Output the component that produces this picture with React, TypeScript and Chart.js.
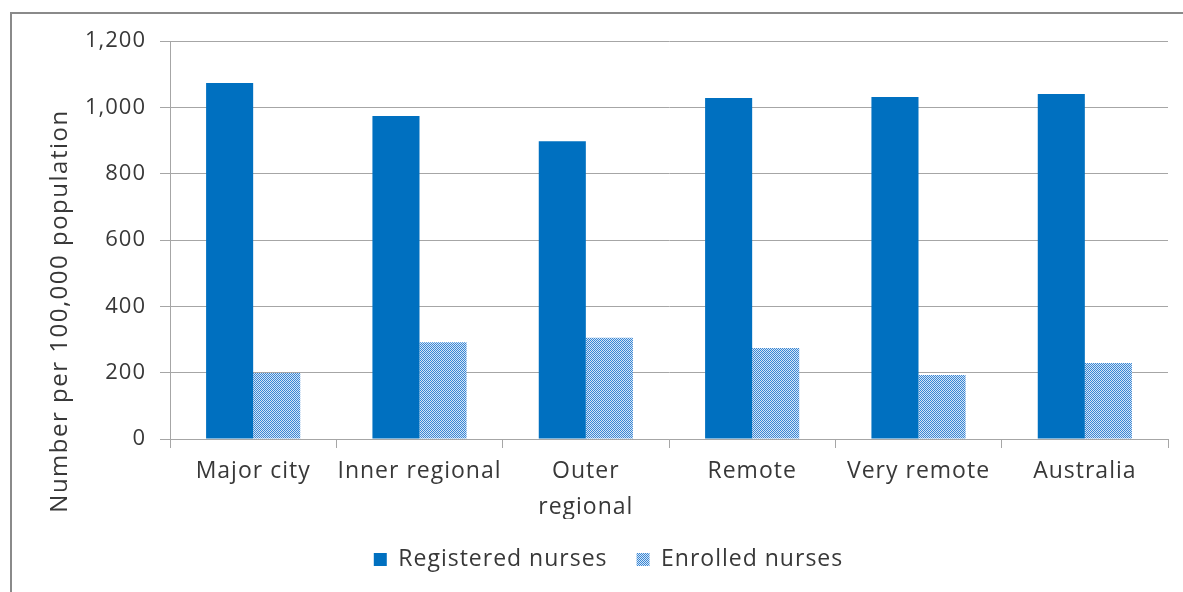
import React, { useEffect, useRef } from "react";
import { Chart, registerables } from "chart.js";

Chart.register(...registerables);

const categories: (string | string[])[] = [
  "Major city",
  "Inner regional",
  ["Outer", "regional"],
  "Remote",
  "Very remote",
  "Australia",
];
const registeredNurses = [1073, 974, 898, 1028, 1031, 1040];
const enrolledNurses = [199, 292, 305, 274, 193, 229];
const seriesNames = ["Registered nurses", "Enrolled nurses"];
const yTitle = "Number per 100,000 population";

const FONT = "'Open Sans', 'DejaVu Sans', sans-serif";
const TEXT = "#383838";
const GRID = "#a6a6a6";

function makePattern(): CanvasPattern | string {
  const c = document.createElement("canvas");
  c.width = 2;
  c.height = 2;
  const g = c.getContext("2d");
  if (!g) return "#7fb3e4";
  g.fillStyle = "#d4e6f7";
  g.fillRect(0, 0, 2, 2);
  g.fillStyle = "#3a86d4";
  g.fillRect(0, 0, 1, 1);
  g.fillRect(1, 1, 1, 1);
  const p = g.createPattern(c, "repeat");
  return p || "#7fb3e4";
}

export default function App() {
  const ref = useRef<HTMLCanvasElement | null>(null);

  useEffect(() => {
    document.body.style.margin = "0";
    const canvas = ref.current;
    if (!canvas) return;
    const pattern = makePattern();

    const framePlugin = {
      id: "frame",
      beforeUpdate(chart: any) {
        (chart.ctx as any).letterSpacing = "1px";
      },
      beforeDraw(chart: any) {
        const ctx = chart.ctx;
        (ctx as any).letterSpacing = "1px";
        ctx.save();
        ctx.fillStyle = "#ffffff";
        ctx.fillRect(0, 0, chart.width, chart.height);
        ctx.strokeStyle = "#8a8a8a";
        ctx.lineWidth = 2;
        ctx.beginPath();
        ctx.moveTo(11, chart.height);
        ctx.lineTo(11, 13);
        ctx.lineTo(chart.width, 13);
        ctx.stroke();
        ctx.restore();
      },
      afterDraw(chart: any) {
        const ctx = chart.ctx;
        ctx.save();
        (ctx as any).letterSpacing = "1.5px";
        ctx.fillStyle = TEXT;
        ctx.font = `24px ${FONT}`;
        ctx.textAlign = "center";
        ctx.textBaseline = "middle";
        ctx.translate(60, 311);
        ctx.rotate(-Math.PI / 2);
        ctx.fillText(yTitle, 0, 0);
        ctx.restore();
      },
    };

    const chart = new Chart(canvas, {
      type: "bar",
      data: {
        labels: categories,
        datasets: [
          {
            label: seriesNames[0],
            data: registeredNurses,
            backgroundColor: "#0070c0",
            borderWidth: 0,
            categoryPercentage: 0.566,
            barPercentage: 1,
          },
          {
            label: seriesNames[1],
            data: enrolledNurses,
            backgroundColor: pattern as any,
            borderWidth: 0,
            categoryPercentage: 0.566,
            barPercentage: 1,
          },
        ],
      },
      options: {
        animation: false,
        responsive: false,
        maintainAspectRatio: false,
        layout: { padding: { left: 49, right: 15, top: 41, bottom: 11 } },
        plugins: {
          legend: {
            position: "bottom",
            labels: {
              color: TEXT,
              font: { family: FONT, size: 23 },
              boxWidth: 13,
              boxHeight: 13,
              padding: 29,
            },
          },
          tooltip: { enabled: false },
        },
        scales: {
          x: {
            grid: {
              display: true,
              drawOnChartArea: false,
              drawTicks: true,
              tickLength: 9,
              color: GRID,
              offset: true,
            },
            border: { display: true, color: GRID, width: 1 },
            ticks: {
              color: TEXT,
              font: { family: FONT, size: 23, lineHeight: 1.55 },
              padding: 6,
              maxRotation: 0,
              autoSkip: false,
            },
            afterFit(scale: any) {
              scale.height = 80;
            },
          } as any,
          y: {
            min: 0,
            max: 1200,
            ticks: {
              stepSize: 200,
              color: TEXT,
              font: { family: FONT, size: 22 },
              padding: 14,
              callback: (v: any) => Number(v).toLocaleString("en-US"),
            },
            grid: {
              color: GRID,
              tickLength: 10,
              drawTicks: true,
            },
            border: { display: true, color: GRID, width: 1 },
            afterFit(scale: any) {
              scale.width = 121;
            },
          } as any,
        },
      },
      plugins: [framePlugin],
    });

    return () => chart.destroy();
  }, []);

  return (
    <div style={{ width: 1183, height: 592, position: "relative" }}>
      <canvas ref={ref} width={1183} height={592} style={{ display: "block" }} />
    </div>
  );
}
